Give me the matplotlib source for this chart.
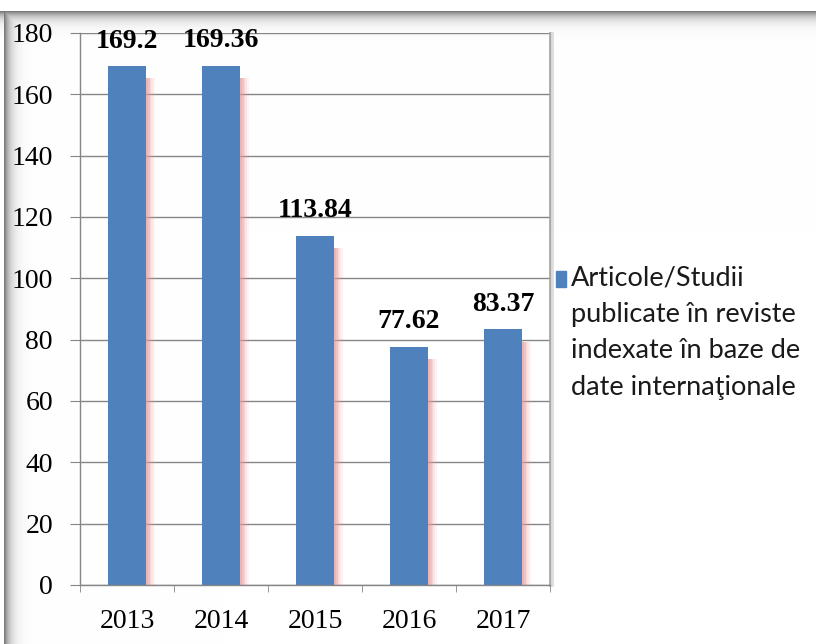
import numpy as np
import matplotlib
matplotlib.use("Agg")
import matplotlib.pyplot as plt
from matplotlib.patches import Rectangle

years = ["2013", "2014", "2015", "2016", "2017"]
values = [169.2, 169.36, 113.84, 77.62, 83.37]
value_labels = ["169.2", "169.36", "113.84", "77.62", "83.37"]
yticks = [0, 20, 40, 60, 80, 100, 120, 140, 160, 180]
legend_label = "Articole/Studii\npublicate în reviste\nindexate în baze de\ndate internaţionale"

W, H = 816, 644
fig = plt.figure(figsize=(W / 100, H / 100), dpi=100)

# background gradient frame (gray shadow top and left)
bg = fig.add_axes([0, 0, 1, 1], zorder=-10)
yy, xx = np.mgrid[0:H, 0:W]
top = np.where(yy >= 11, np.exp(-np.clip(yy - 11, 0, None) / 6.0), 0.0)
left = np.where((xx >= 4) & (yy >= 11), np.exp(-np.clip(xx - 4, 0, None) / 6.0), 0.0)
dark = np.maximum(top, left) * 0.52
img = np.dstack([1 - dark] * 3)
bg.imshow(img, extent=[0, W, H, 0], aspect="auto", interpolation="bilinear")
bg.set_xlim(0, W)
bg.set_ylim(H, 0)
bg.axis("off")

ax = fig.add_axes([80 / W, 1 - 585 / H, 470 / W, 552 / H])
ax.set_facecolor("none")
x = np.arange(len(years))
blue = "#4F81BD"
# soft pink glow on the right of bars
for off, a in [(0.10, 0.10), (0.08, 0.15), (0.06, 0.2), (0.04, 0.3), (0.02, 0.35)]:
    ax.bar(x + off, np.array(values) - 4, width=0.40, color="#e89a9a", alpha=a,
           linewidth=0, zorder=1)
ax.bar(x, values, width=0.40, color=blue, zorder=2)

ax.set_xlim(-0.5, len(years) - 0.5)
ax.set_ylim(0, 180)
ax.set_yticks(yticks)
ax.set_yticklabels([str(v) for v in yticks], family="Liberation Serif", fontsize=20)
ax.set_xticks(x)
ax.set_xticklabels(years, family="Liberation Serif", fontsize=20)
ax.set_xticks(np.arange(-0.5, len(years), 1), minor=True)
ax.tick_params(axis="x", which="major", length=0, pad=17)
ax.tick_params(axis="x", which="minor", length=5, color="#868686", direction="out")
ax.tick_params(axis="y", length=7.5, color="#868686", pad=12)
ax.grid(axis="y", color="#868686", linewidth=1.0, zorder=0)
ax.set_axisbelow(True)
for s in ["top", "right"]:
    ax.spines[s].set_visible(False)
for s in ["left", "bottom"]:
    ax.spines[s].set_color("#868686")
    ax.spines[s].set_linewidth(1.0)

for xi, v, lab in zip(x, values, value_labels):
    ax.annotate(lab, (xi, v), xytext=(0, 9), textcoords="offset points",
                ha="center", va="bottom", family="Liberation Serif",
                fontweight="bold", fontsize=20, color="black", zorder=5)

# plot-area right shadow
ax.plot([1.0, 1.0], [0, 1], transform=ax.transAxes, color="#a8a8a8", lw=2, clip_on=False)
ax.plot([1.004, 1.004], [0, 1], transform=ax.transAxes, color="#dddddd", lw=2, clip_on=False)

# legend
fig.patches.append(Rectangle((556 / W, 1 - 287 / H), 10 / W, 16 / H,
                             transform=fig.transFigure, color=blue))
fig.text(571 / W, 1 - 265 / H, legend_label, family="Lato", fontsize=19.5,
         va="top", ha="left", linespacing=1.58, color="#1a1a1a")

fig.savefig("out.png", dpi=100)
